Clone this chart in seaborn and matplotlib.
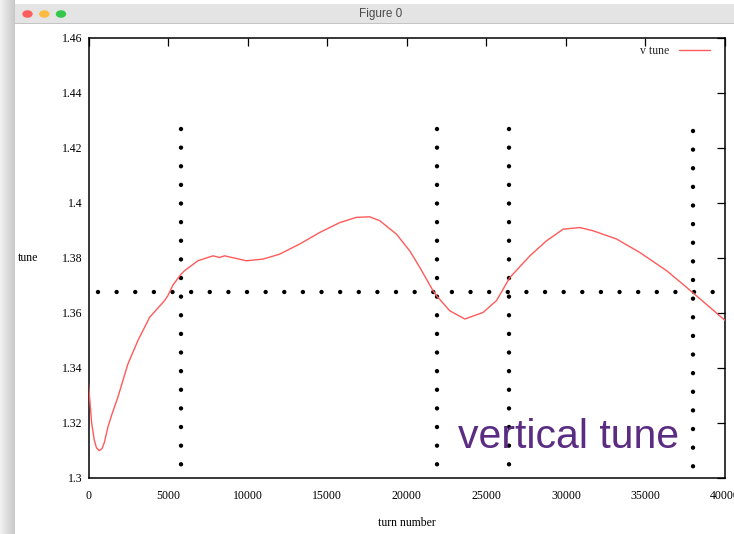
import numpy as np
import pandas as pd
import seaborn as sns
import matplotlib.pyplot as plt
from matplotlib.patches import Rectangle, Circle

# ---- data ----
turns = [0, 115, 200, 365, 500, 680, 850, 1000, 1215, 1500, 1845, 2475, 3100,
         3840, 4780, 4990, 5300, 5830, 6040, 6460, 6875, 7820, 8240, 8550, 9920,
         10960, 12010, 13270, 14530, 15790, 16840, 17670, 18300, 19350, 20190,
         20820, 21650, 21870, 22700, 23650, 24800, 25640, 26480, 27740, 28790,
         29830, 30880, 31720, 33190, 34650, 36330, 37590, 39060, 40000]
tune = [1.3342, 1.3258, 1.3197, 1.3136, 1.3108, 1.3098, 1.3105, 1.3128, 1.3183,
        1.3235, 1.3292, 1.3413, 1.3498, 1.3583, 1.3644, 1.3662, 1.3700, 1.3741,
        1.3753, 1.3771, 1.3789, 1.3807, 1.3801, 1.3807, 1.3789, 1.3795, 1.3813,
        1.3850, 1.3892, 1.3928, 1.3947, 1.3949, 1.3935, 1.3886, 1.3825, 1.3765,
        1.3680, 1.3662, 1.3607, 1.3577, 1.3601, 1.3644, 1.3728, 1.3807, 1.3862,
        1.3904, 1.3910, 1.3898, 1.3868, 1.3819, 1.3753, 1.3692, 1.3619, 1.3572]

h_line_x = [585, 39250]
h_line_y = 1.3676
v_line_x = [5790, 21900, 26430, 38000]
v_line_low = [1.3044, 1.3044, 1.3044, 1.3036]
v_line_high = [1.4270, 1.4270, 1.4270, 1.4260]

x_ticks = [0, 5000, 10000, 15000, 20000, 25000, 30000, 35000, 40000]
x_tick_labels = ["0", "5000", "10000", "15000", "20000", "25000", "30000", "35000", "40000"]
y_ticks = [1.30, 1.32, 1.34, 1.36, 1.38, 1.40, 1.42, 1.44, 1.46]
y_tick_labels = ["1.3", "1.32", "1.34", "1.36", "1.38", "1.4", "1.42", "1.44", "1.46"]

annotation_text = "vertical tune"
annotation_pos = (23200, 1.3109)

df = pd.DataFrame({"turn number": turns, "tune": tune})

sns.set_theme(style="white")
plt.rcParams["font.family"] = ["Liberation Serif", "DejaVu Serif"]

W, H = 734, 534
fig = plt.figure(figsize=(W / 100, H / 100), dpi=100)
fig.patch.set_facecolor("white")

# ---- window chrome ----
grad = fig.add_axes([0, 0, 15 / W, 1])
g = np.linspace(0.95, 0.78, 64)[None, :]
grad.imshow(np.repeat(g, 2, axis=0), cmap="gray", vmin=0, vmax=1, aspect="auto")
grad.axis("off")
fig.patches.append(Rectangle((15 / W, (H - 24) / H), 1, 20 / H, transform=fig.transFigure,
                             facecolor="#e4e4e4", edgecolor="none", zorder=1))
fig.patches.append(Rectangle((15 / W, (H - 24.5) / H), 1, 1 / H, transform=fig.transFigure,
                             facecolor="#c4c4c4", edgecolor="none", zorder=2))
for cx, col in zip([27.5, 44.3, 61.0], ["#fc605c", "#fdbc40", "#34c84a"]):
    fig.patches.append(Circle((cx / W, (H - 14) / H), 5.2 / W, transform=fig.transFigure,
                              facecolor=col, edgecolor="none", zorder=3))
fig.text(381 / W, (H - 14.5) / H, "Figure 0", ha="center", va="center",
         fontsize=8.5, color="#4a4a4a", family=["Liberation Sans", "DejaVu Sans"])

# ---- plot ----
L, R, T, B = 88.5, 725, 38, 477.5
ax = fig.add_axes([L / W, (H - B) / H, (R - L) / W, (B - T) / H])
ax.set_facecolor("white")

dot_style = dict(color="black", lw=3.2, linestyle=(0, (0.001, 4.19)),
                 dash_capstyle="round", zorder=2)
ax.plot(h_line_x, [h_line_y, h_line_y], **dot_style)
for vx, lo, hi in zip(v_line_x, v_line_low, v_line_high):
    ax.plot([vx, vx], [hi, lo], **dot_style)

sns.lineplot(data=df, x="turn number", y="tune", color="#ff5a5a", lw=1.0,
             ax=ax, label="v tune", sort=False, estimator=None, zorder=3)

ax.set_xlim(0, 40000)
ax.set_ylim(1.30, 1.46)
ax.set_xticks(x_ticks)
ax.set_xticklabels(x_tick_labels)
ax.set_yticks(y_ticks)
ax.set_yticklabels(y_tick_labels)
ax.tick_params(direction="in", length=6, width=0.9, top=True, right=True,
               labelsize=8.5, colors="black")
ax.tick_params(axis="x", pad=9)
ax.tick_params(axis="y", pad=4)
for s in ax.spines.values():
    s.set_visible(True)
    s.set_color("black")
    s.set_linewidth(1.1)

ax.set_xlabel("turn number", fontsize=8.5, color="black")
ax.set_ylabel("tune", fontsize=8.5, color="black", rotation=0, va="center", ha="center")
ax.xaxis.set_label_coords(0.5, -(517 - B) / (B - T))
ax.yaxis.set_label_coords((28 - L) / (R - L), (B - 258) / (B - T))

leg = ax.legend(loc="upper right", bbox_to_anchor=(1.0 - 7 / (R - L), 1.0 + 1 / (B - T)),
                frameon=False, markerfirst=False, handlelength=2.6, handletextpad=0.8,
                borderaxespad=0.3, fontsize=8.5)

ax.text(annotation_pos[0], annotation_pos[1], annotation_text, color="#5b2d82",
        fontsize=29.5, family=["Liberation Sans", "DejaVu Sans"], va="baseline",
        ha="left", zorder=4)

fig.savefig("out.png", dpi=100)
